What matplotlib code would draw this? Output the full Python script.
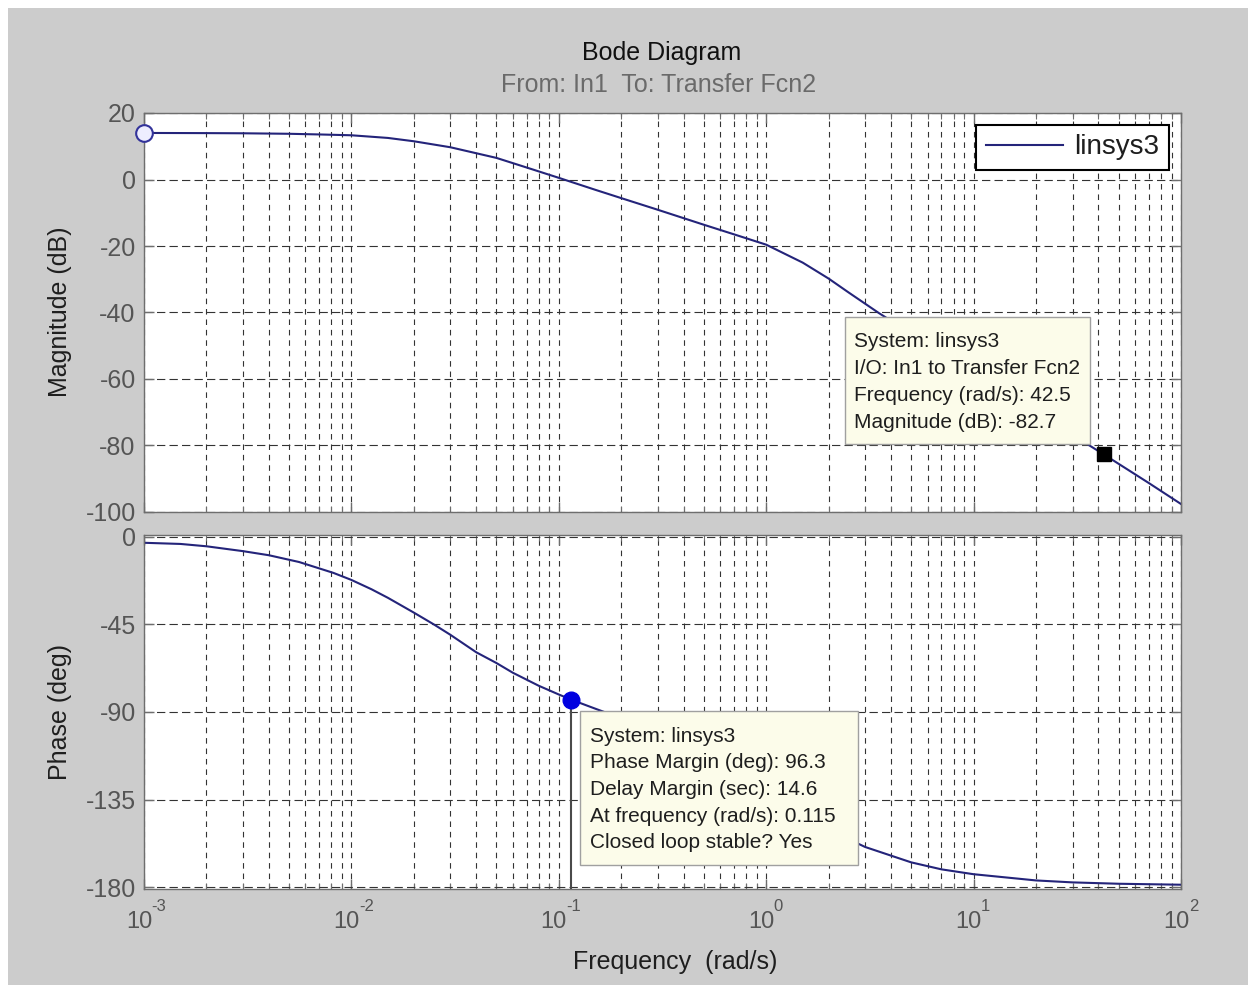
import matplotlib
matplotlib.use('Agg')
import matplotlib.pyplot as plt
import matplotlib.transforms as mtransforms
from matplotlib.ticker import LogLocator, NullFormatter, FixedLocator
from matplotlib.patches import Rectangle

# ---------------- data ----------------
mag_freq = [0.001, 0.002, 0.003, 0.005, 0.007, 0.01, 0.015, 0.02, 0.03, 0.05,
            0.07, 0.1, 0.15, 0.2, 0.3, 0.5, 0.7, 1.0, 1.5, 2.0,
            2.5, 3.5, 5.0, 7.0, 10.0, 20.0, 42.5, 70.0, 100.0]
mag_db = [14.0, 13.95, 13.9, 13.75, 13.55, 13.3, 12.5, 11.5, 9.7, 6.5,
          3.6, 0.5, -3.1, -5.6, -9.1, -13.6, -16.5, -19.6, -25.0, -29.8,
          -34.0, -40.2, -46.3, -52.1, -58.0, -70.0, -82.7, -91.3, -97.6]

ph_freq = [0.001, 0.0015, 0.002, 0.003, 0.004, 0.0056, 0.0082, 0.01, 0.0125, 0.015,
           0.02, 0.025, 0.03, 0.04, 0.05, 0.06, 0.08, 0.1, 0.115, 0.15,
           0.2, 0.3, 0.5, 0.7, 1.0, 1.5, 2.0, 3.0, 5.0, 7.0,
           10.0, 20.0, 30.0, 50.0, 100.0]
ph_deg = [-3.0, -3.6, -4.8, -7.3, -9.4, -12.9, -18.5, -22.1, -26.9, -31.3,
          -38.9, -45.0, -50.3, -59.3, -64.8, -69.8, -76.5, -81.0, -83.7, -88.3,
          -93.2, -100.5, -111.5, -120.5, -130.9, -142.7, -150.5, -159.4, -167.3, -170.9,
          -173.4, -176.6, -177.6, -178.3, -178.8]

mag_ticks = [-100, -80, -60, -40, -20, 0, 20]
ph_ticks = [-180, -135, -90, -45, 0]
x_ticks = [1e-3, 1e-2, 1e-1, 1e0, 1e1, 1e2]
x_exponents = ['-3', '-2', '-1', '0', '1', '2']

system_name = 'linsys3'
cursor_freq = 42.5
cursor_mag = -82.7
pm_freq = 0.115
pm_deg = 96.3

mag_tip = ['System: linsys3', 'I/O: In1 to Transfer Fcn2',
           'Frequency (rad/s): 42.5', 'Magnitude (dB): -82.7']
ph_tip = ['System: linsys3', 'Phase Margin (deg): 96.3', 'Delay Margin (sec): 14.6',
          'At frequency (rad/s): 0.115', 'Closed loop stable? Yes']

# ---------------- style ----------------
plt.rcParams['font.family'] = ['Liberation Sans', 'DejaVu Sans']
plt.rcParams['axes.unicode_minus'] = False
plt.rcParams['lines.scale_dashes'] = False

LINE = '#24247a'
GRID = '#333333'
SPINE = '#6e6e6e'
TICKLAB = '#555555'
BG = '#cccccc'
TIPFACE = '#fcfcea'
TIPEDGE = '#a0a0a0'
TEXT = '#1e1e1e'

W, H = 1248, 985
fig = plt.figure(figsize=(W / 100, H / 100), dpi=100, facecolor='white')
fig.patches.append(Rectangle((8 / W, 0), 1 - 8 / W, 1 - 8 / H, transform=fig.transFigure,
                             facecolor=BG, edgecolor='none', zorder=-10))

L, R = 144, 1181
ax1 = fig.add_axes([L / W, 1 - 512 / H, (R - L) / W, (512 - 113) / H])
ax2 = fig.add_axes([L / W, 1 - 889 / H, (R - L) / W, (889 - 535) / H])


def style(ax):
    ax.set_facecolor('white')
    ax.set_xscale('log')
    ax.set_xlim(1e-3, 1e2)
    ax.xaxis.set_major_locator(FixedLocator(x_ticks))
    ax.xaxis.set_minor_locator(LogLocator(base=10, subs=range(2, 10), numticks=100))
    ax.xaxis.set_minor_formatter(NullFormatter())
    for s in ax.spines.values():
        s.set_color(SPINE)
        s.set_linewidth(1.0)
    ax.tick_params(which='both', direction='in', top=True, right=True,
                   colors=SPINE, labelcolor=TICKLAB, labelsize=18)
    ax.tick_params(which='major', length=7, width=1)
    ax.tick_params(which='minor', length=4, width=0.8)
    ax.tick_params(axis='y', pad=6)
    ax.grid(True, which='major', axis='y', color=GRID, lw=0.8, ls=(0, (6, 3)))
    ax.grid(True, which='both', axis='x', color=GRID, lw=0.8, ls=(0, (4, 3.5)))
    ax.set_axisbelow(True)


style(ax1)
style(ax2)

# ---- magnitude ----
ax1.set_ylim(-100, 20)
ax1.set_yticks(mag_ticks)
ax1.tick_params(axis='x', labelbottom=False)
line, = ax1.plot(mag_freq, mag_db, color=LINE, lw=1.5, zorder=2, label=system_name)
ax1.plot([mag_freq[0]], [mag_db[0]], 'o', ms=12, mfc='#eeeeff', mec='#33339a', mew=1.5,
         clip_on=False, zorder=6)
ax1.plot([cursor_freq], [cursor_mag], 's', ms=10, color='black', zorder=6)

ax1.add_patch(Rectangle((0.676, 0.170), 0.236, 0.319, transform=ax1.transAxes,
                        facecolor=TIPFACE, edgecolor=TIPEDGE, lw=1, zorder=4))
for i, s in enumerate(mag_tip):
    yb = 347 + 27 * i
    ax1.text((854 - L) / (R - L), 1 - (yb - 113) / 399, s, transform=ax1.transAxes,
             ha='left', va='baseline', fontsize=15, color=TEXT, zorder=5)

leg = ax1.legend(handles=[line], loc='upper right', fontsize=20, frameon=True,
                 fancybox=False, edgecolor='black', framealpha=1, borderpad=0.35,
                 handlelength=2.8, handletextpad=0.4, borderaxespad=0.42)
leg.get_frame().set_linewidth(1.5)
for t in leg.get_texts():
    t.set_color(TEXT)

# ---- phase ----
ax2.set_ylim(-181, 1)
ax2.set_yticks(ph_ticks)
ax2.set_xticks(x_ticks)
ax2.set_xticklabels(['10'] * len(x_ticks))
ax2.tick_params(axis='x', pad=16, labelsize=17)
shift = mtransforms.ScaledTranslation(-5 / 100, 0, fig.dpi_scale_trans)
for lbl in ax2.get_xticklabels():
    lbl.set_transform(lbl.get_transform() + shift)
for t, e in zip(x_ticks, x_exponents):
    ax2.annotate(e, xy=(t, 0), xycoords=('data', 'axes fraction'),
                 xytext=(5.5, -15.5), textcoords='offset points', ha='left', va='baseline',
                 fontsize=12, color=TICKLAB, annotation_clip=False)

ax2.plot(ph_freq, ph_deg, color=LINE, lw=1.5, zorder=2)
ax2.plot([pm_freq, pm_freq], [pm_deg - 180, -181], color='#4a4a4a', lw=1.5, zorder=3)
ax2.plot([pm_freq], [pm_deg - 180], 'o', ms=12, color='#0000e0', zorder=6)

ax2.add_patch(Rectangle((0.420, 0.068), 0.269, 0.435, transform=ax2.transAxes,
                        facecolor=TIPFACE, edgecolor=TIPEDGE, lw=1, zorder=4))
for i, s in enumerate(ph_tip):
    yb = 742 + 26.5 * i
    ax2.text((590 - L) / (R - L), (889 - yb) / 354, s, transform=ax2.transAxes,
             ha='left', va='baseline', fontsize=15, color=TEXT, zorder=5)

# ---- titles / labels ----
fig.text(662 / W, 1 - 60 / H, 'Bode Diagram', ha='center', va='baseline',
         fontsize=18, color='#111111')
fig.text(659 / W, 1 - 92 / H, 'From: In1  To: Transfer Fcn2', ha='center', va='baseline',
         fontsize=18, color='#6a6a6a')
fig.text(60 / W, 1 - 312 / H, 'Magnitude (dB)', ha='center', va='center', rotation=90,
         fontsize=18, color=TEXT)
fig.text(60 / W, 1 - 712 / H, 'Phase (deg)', ha='center', va='center', rotation=90,
         fontsize=18, color=TEXT)
fig.text(675 / W, 1 - 969 / H, 'Frequency  (rad/s)', ha='center', va='baseline',
         fontsize=18, color=TEXT)

fig.savefig('out.png', dpi=100, facecolor=fig.get_facecolor())
